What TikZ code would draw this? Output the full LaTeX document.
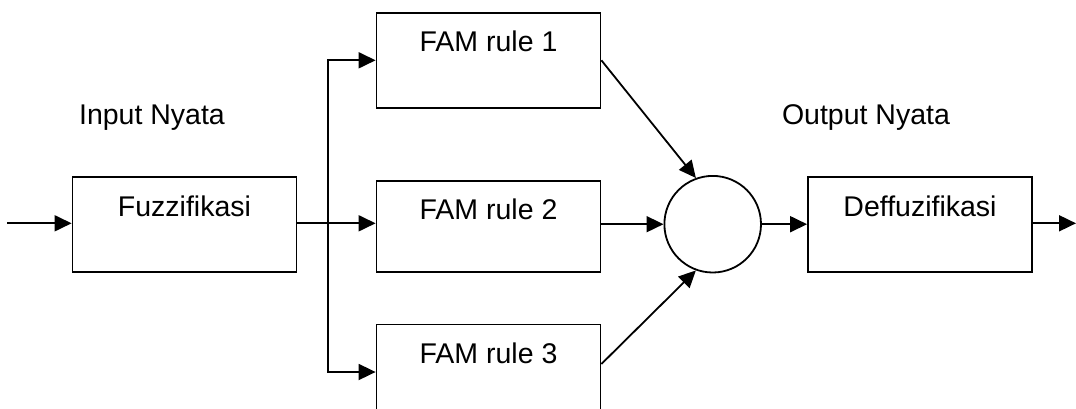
\documentclass[tikz,border=0pt]{standalone}
\usepackage{fontspec}
\setmainfont{Liberation Sans}
\usetikzlibrary{arrows.meta}

\tikzset{
  blk/.style={draw, line width=1.8pt, rectangle, inner sep=0pt,
              minimum width=224pt},
  blktext/.style={font=\fontsize{28.5}{34}\selectfont, inner sep=0pt, anchor=base},
  sumnode/.style={draw, line width=1.8pt, circle, inner sep=0pt, minimum size=96.6pt},
  arr/.style={line width=1.8pt, -{Triangle[length=17pt,width=16pt]}},
  caption/.style={font=\fontsize{28.5}{34}\selectfont, inner sep=0pt, anchor=base}
}

\begin{document}
\begin{tikzpicture}[x=1pt, y=-1pt]
  \useasboundingbox (0,0) rectangle (1076,408);

  % processing blocks, label baseline 40pt below the top edge
  \node[blk, minimum height=95pt,
        label={[blktext, yshift=-40pt]north:Fuzzifikasi}] (fuzz) at (184.5,224.5) {};
  \node[blk, minimum height=95.3pt,
        label={[blktext, yshift=-40pt]north:FAM rule 1}] (fam1) at (488.5,60.3) {};
  \node[blk, minimum height=91.6pt,
        label={[blktext, yshift=-40pt]north:FAM rule 2}] (fam2) at (488.5,226.5) {};
  \node[blk, minimum height=95pt,
        label={[blktext, yshift=-40pt]north:FAM rule 3}] (fam3) at (488.5,372) {};
  \node[blk, minimum height=95pt,
        label={[blktext, yshift=-40pt]north:Deffuzifikasi}] (defz) at (920,224.5) {};

  % aggregation node
  \node[sumnode] (sum) at (712.7,224.2) {};

  % captions
  \node[caption] (inlab) at (152,124) {Input Nyata};
  \node[caption] (outlab) at (866,124) {Output Nyata};

  % input and output ends
  \coordinate (in) at (7.3,223.3);
  \coordinate (out) at (1076,223.3);
  \coordinate (split) at (328,223.3);

  % connectors
  \draw[arr] (in) -- (in -| fuzz.west);
  \draw[arr] (fuzz.east |- split) -- (fam2.west |- split);
  \draw[arr] (split) |- (fam1.west);
  \draw[arr] (split) |- (fam3.west);
  \draw[arr] (fam1.east) -- (sum.110);
  \draw[arr] (fam2.east |- sum.west) -- (sum.west);
  \draw[arr] ([yshift=8pt]fam3.east) -- (sum.250);
  \draw[arr] (sum.east) -- (sum.east -| defz.west);
  \draw[arr] (defz.east |- out) -- (out);
\end{tikzpicture}
\end{document}
